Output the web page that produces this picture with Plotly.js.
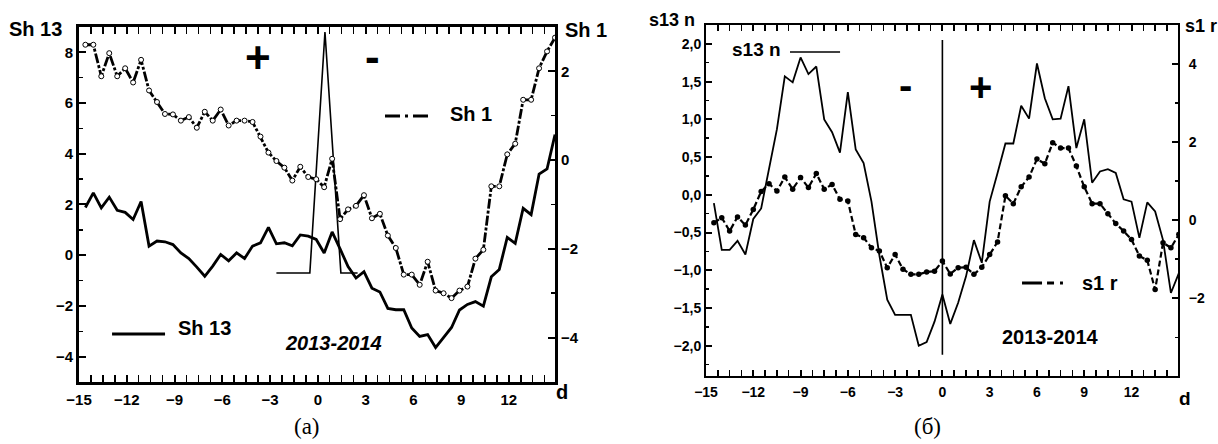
<!DOCTYPE html>
<html>
<head>
<meta charset="utf-8">
<script src="https://cdn.plot.ly/plotly-3.0.1.min.js"></script>
<style>html,body{margin:0;padding:0;background:#fff;}#chart{width:1218px;height:444px;}</style>
</head>
<body>
<div id="chart"></div>
<script>
// ---------- Panel (a) data ----------
const daysA = [-14.6,-14.1,-13.6,-13.1,-12.6,-12.1,-11.6,-11.1,-10.6,-10.1,
  -9.6,-9.1,-8.6,-8.1,-7.6,-7.1,-6.6,-6.1,-5.6,-5.1,
  -4.6,-4.1,-3.6,-3.1,-2.6,-2.1,-1.6,-1.1,-0.6,-0.1,
  0.4,0.9,1.4,1.9,2.4,2.9,3.4,3.9,4.4,4.9,
  5.4,5.9,6.4,6.9,7.4,7.9,8.4,8.9,9.4,9.9,
  10.4,10.9,11.4,11.9,12.4,12.9,13.4,13.9,14.4,14.9];
const sh13 = [1.88,2.46,1.87,2.29,1.77,1.69,1.41,2.12,0.36,0.56,
  0.53,0.42,0.09,-0.13,-0.47,-0.83,-0.43,0.03,-0.22,0.09,
  -0.13,0.36,0.49,1.10,0.45,0.49,0.37,0.80,0.75,0.62,
  0.09,0.92,0.25,-0.45,-0.90,-0.65,-1.30,-1.45,-2.10,-2.15,
  -2.15,-2.87,-3.20,-3.13,-3.64,-3.26,-2.85,-2.16,-1.94,-1.83,
  -2.01,-0.85,-0.56,0.70,0.47,1.85,1.60,3.20,3.40,4.76];
const sh1 = [2.60,2.60,1.89,2.41,1.89,2.07,1.75,2.26,1.57,1.31,
  1.04,1.03,0.89,0.97,0.73,1.09,0.89,1.14,0.78,0.89,
  0.89,0.86,0.53,0.17,-0.02,-0.17,-0.46,-0.15,-0.38,-0.43,
  -0.61,0.03,-1.33,-1.11,-1.03,-0.79,-1.31,-1.21,-1.70,-1.98,
  -2.58,-2.58,-2.81,-2.29,-2.94,-3.00,-3.11,-2.94,-2.85,-2.22,
  -2.02,-0.59,-0.59,0.13,0.37,1.36,1.36,2.07,2.45,2.76];
const spikeX = [-2.6,-0.5,0.45,1.45,2.5];
const spikeY = [-0.7,-0.7,8.8,-0.7,-0.7];

// ---------- Panel (b) data ----------
const daysB = [-14.5,-14,-13.5,-13,-12.5,-12,-11.5,-11,-10.5,-10,
  -9.5,-9,-8.5,-8,-7.5,-7,-6.5,-6,-5.5,-5,
  -4.5,-4,-3.5,-3,-2.5,-2,-1.5,-1,-0.5,0,
  0.5,1,1.5,2,2.5,3,3.5,4,4.5,5,
  5.5,6,6.5,7,7.5,8,8.5,9,9.5,10,
  10.5,11,11.5,12,12.5,13,13.5,14,14.5,15];
const s13n = [-0.11,-0.73,-0.73,-0.61,-0.79,-0.32,-0.18,0.36,0.87,1.57,
  1.49,1.82,1.60,1.70,1.00,0.83,0.56,1.36,0.60,0.42,
  -0.09,-0.80,-1.39,-1.59,-1.59,-1.59,-2.00,-1.95,-1.68,-1.32,
  -1.71,-1.43,-1.08,-0.60,-0.90,-0.09,0.29,0.68,0.68,1.18,
  1.01,1.74,1.28,1.00,1.01,1.44,0.62,1.00,0.16,0.31,
  0.34,0.29,-0.06,-0.09,-0.57,-0.10,-0.22,-0.60,-1.30,-1.04];
const s1r = [-0.07,0.06,-0.28,0.08,-0.13,0.27,0.73,0.93,0.74,1.10,
  0.79,1.09,0.83,1.19,0.79,0.91,0.53,0.49,-0.37,-0.45,
  -0.71,-0.79,-1.22,-0.88,-1.26,-1.39,-1.39,-1.33,-1.31,-1.05,
  -1.38,-1.22,-1.21,-1.39,-1.21,-0.88,-0.56,0.62,0.42,0.85,
  1.10,1.56,1.44,1.98,1.84,1.84,1.38,0.85,0.42,0.42,
  0.16,-0.09,-0.28,-0.50,-0.92,-1.03,-1.78,-0.58,-0.71,-0.37];
const zeroLineX = [0,0];
const zeroLineY = [2.05,-2.12];

const tickFont = {family:'Liberation Sans, Arial', size:15, color:'#000', weight:'bold'};
const tickFontB = {family:'Liberation Sans, Arial', size:14, color:'#000', weight:'bold'};

const traces = [
  {x:daysA, y:sh13, xaxis:'x', yaxis:'y', mode:'lines', line:{color:'#000', width:2.8}, hoverinfo:'skip'},
  {x:spikeX, y:spikeY, xaxis:'x', yaxis:'y', mode:'lines', line:{color:'#000', width:1.6}, hoverinfo:'skip'},
  {x:daysA, y:sh1, xaxis:'x', yaxis:'y2', mode:'lines+markers',
   line:{color:'#000', width:2.8, dash:'10px,2px,3px,2px'},
   marker:{symbol:'circle', size:5, color:'#fff', line:{color:'#000', width:1}}, hoverinfo:'skip'},
  {x:zeroLineX, y:zeroLineY, xaxis:'x2', yaxis:'y3', mode:'lines', line:{color:'#000', width:1.6}, hoverinfo:'skip'},
  {x:daysB, y:s13n, xaxis:'x2', yaxis:'y3', mode:'lines', line:{color:'#000', width:1.8}, hoverinfo:'skip'},
  {x:daysB, y:s1r, xaxis:'x2', yaxis:'y4', mode:'lines+markers',
   line:{color:'#000', width:2.2, dash:'6px,3px'},
   marker:{symbol:'circle', size:5.5, color:'#000'}, hoverinfo:'skip'}
];

function xax(domain, range, anchor, lw, tl, font){
  return {domain:domain, range:range, anchor:anchor, tick0:-15, dtick:3, tickmode:'linear',
    ticks:'inside', ticklen:tl, tickwidth:2, tickcolor:'#000',
    showline:true, linewidth:lw, linecolor:'#000', mirror:'allticks',
    minor:{tick0:-15, dtick:0.75, ticks:'inside', ticklen:tl-3, tickwidth:1.5, tickcolor:'#000', showgrid:false},
    showgrid:false, zeroline:false, tickfont:font, ticklabelstandoff:2};
}

const layout = {
  width:1218, height:444, margin:{l:0,r:0,t:0,b:0},
  paper_bgcolor:'#fff', plot_bgcolor:'#fff', showlegend:false,
  separators:',.',
  xaxis: xax([0.06486,0.45567], [-15,14.9], 'y', 3, 7, tickFont),
  yaxis: {domain:[0.13964,0.93919], range:[-5,9], anchor:'x', tick0:0, dtick:2,
    ticks:'inside', ticklen:7, tickwidth:2, tickcolor:'#000',
    minor:{dtick:1, ticks:'inside', ticklen:4, tickwidth:1.5, tickcolor:'#000'},
    showline:true, linewidth:3, linecolor:'#000', showgrid:false, zeroline:false, tickfont:tickFont},
  yaxis2: {overlaying:'y', side:'right', anchor:'x', range:[-5,3], tick0:0, dtick:2,
    ticks:'inside', ticklen:7, tickwidth:2, tickcolor:'#000',
    minor:{dtick:1, ticks:'inside', ticklen:4, tickwidth:1.5, tickcolor:'#000'},
    showline:true, linewidth:3, linecolor:'#000', showgrid:false, zeroline:false, tickfont:tickFont},
  xaxis2: xax([0.57964,0.96716], [-15,14.95], 'y3', 2, 6, tickFontB),
  yaxis3: {domain:[0.15315,0.94369], range:[-2.4,2.25], anchor:'x2', tick0:0, dtick:0.5, tickformat:'.1f',
    ticks:'inside', ticklen:6, tickwidth:2, tickcolor:'#000',
    minor:{dtick:0.25, ticks:'inside', ticklen:3, tickwidth:1.5, tickcolor:'#000'},
    showline:true, linewidth:2, linecolor:'#000', showgrid:false, zeroline:false, tickfont:tickFontB},
  yaxis4: {overlaying:'y3', side:'right', anchor:'x2', range:[-3.99,4.99], tick0:0, dtick:2,
    ticks:'inside', ticklen:6, tickwidth:2, tickcolor:'#000',
    minor:{dtick:1, ticks:'inside', ticklen:3, tickwidth:1.5, tickcolor:'#000'},
    showline:true, linewidth:2, linecolor:'#000', showgrid:false, zeroline:false, tickfont:tickFontB,
    ticklabelstandoff:6},
  shapes: [
    {type:'line', xref:'paper', yref:'paper', x0:0.0920, x1:0.1355, y0:0.2477, y1:0.2477, line:{color:'#000', width:2.8}},
    {type:'line', xref:'paper', yref:'paper', x0:0.3161, x1:0.3547, y0:0.7387, y1:0.7387, line:{color:'#000', width:2.8, dash:'15px,5px,3px,5px'}},
    {type:'line', xref:'paper', yref:'paper', x0:0.6486, x1:0.6897, y0:0.8829, y1:0.8829, line:{color:'#000', width:1.6}},
    {type:'line', xref:'paper', yref:'paper', x0:0.8391, x1:0.8727, y0:0.3626, y1:0.3626, line:{color:'#000', width:2.8, dash:'20px,5px,7px,6px,4px,60px'}}
  ],
  annotations: []
};

const B = 'Liberation Sans, Arial';
function ann(text, x, y, size, opts){
  const o = Object.assign({italic:false, family:B, weight:'bold'}, opts||{});
  return {text:text, xref:'paper', yref:'paper', x:x, y:y, xanchor:'center', yanchor:'middle', showarrow:false,
    font:{family:o.family, size:size, color:'#000', weight:o.weight, style:o.italic?'italic':'normal'}};
}
layout.annotations = [
  ann('Sh 13', 0.0291, 0.9347, 20),
  ann('Sh 1', 0.4810, 0.9324, 20),
  ann('+', 0.2118, 0.8716, 44),
  ann('-', 0.3062, 0.8720, 44),
  ann('Sh 1', 0.3867, 0.7432, 20),
  ann('Sh 13', 0.1683, 0.2613, 20),
  ann('2013-2014', 0.2734, 0.2275, 20, {italic:true}),
  ann('d', 0.4614, 0.1171, 20),
  ann('(a)', 0.2521, 0.0383, 23, {family:'Liberation Serif, Times New Roman', weight:'normal'}),
  ann('s13 n', 0.5517, 0.955, 18),
  ann('s1 r', 0.9860, 0.9414, 18),
  ann('s13 n', 0.6215, 0.8896, 19),
  ann('-', 0.7438, 0.8080, 40),
  ann('+', 0.8046, 0.8040, 40),
  ann('s1 r', 0.9031, 0.3626, 20),
  ann('2013-2014', 0.8621, 0.2410, 20),
  ann('d', 0.9729, 0.1036, 19),
  ann('(б)', 0.7611, 0.0383, 23, {family:'Liberation Serif, Times New Roman', weight:'normal'})
];

Plotly.newPlot('chart', traces, layout, {displayModeBar:false, staticPlot:true});
</script>
</body>
</html>
